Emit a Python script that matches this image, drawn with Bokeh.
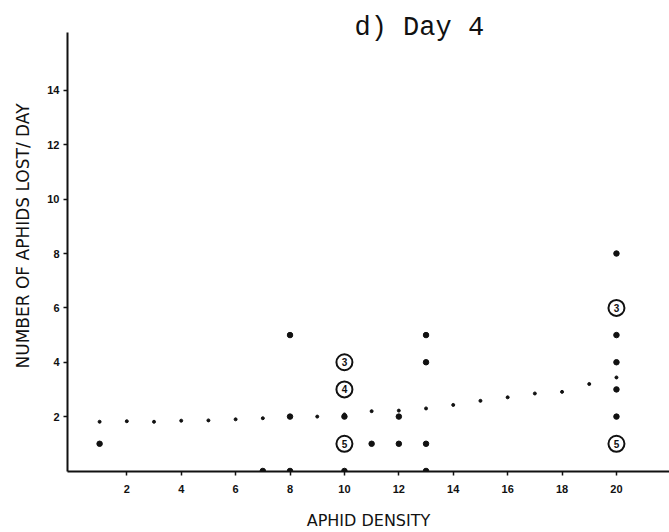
from bokeh.plotting import figure
from bokeh.models import Range1d, FixedTicker, Label, ColumnDataSource
from bokeh.embed import file_html
from bokeh.resources import INLINE
from bokeh.core.properties import value

# single observations (aphid density, aphids lost per day)
dot_x = [1, 7, 8, 8, 8, 10, 10, 11, 12, 12, 13, 13, 13, 13, 20, 20, 20, 20, 20]
dot_y = [1, 0, 0, 2, 5, 0, 2, 1, 1, 2, 0, 1, 4, 5, 2, 3, 4, 5, 8]

# circled points: number of coinciding observations
multi_x = [10, 10, 10, 20, 20]
multi_y = [4, 3, 1, 6, 1]
multi_n = ["3", "4", "5", "3", "5"]

# fitted curve (dotted)
fit_x = [1, 2, 3, 4, 5, 6, 7, 8, 9, 10, 11, 12, 13, 14, 15, 16, 17, 18, 19, 20]
fit_y = [1.81, 1.83, 1.81, 1.85, 1.86, 1.90, 1.94, 1.98, 2.00, 2.08,
         2.20, 2.22, 2.30, 2.43, 2.58, 2.71, 2.85, 2.91, 3.20, 3.44]

x_ticks = [2, 4, 6, 8, 10, 12, 14, 16, 18, 20]
y_ticks = [2, 4, 6, 8, 10, 12, 14]

title_text = "d) Day 4"
x_label = "APHID DENSITY"
y_label = "NUMBER OF APHIDS LOST/ DAY"

p = figure(width=669, height=532, output_backend="svg", toolbar_location=None,
           x_range=Range1d(-0.18, 21.95), y_range=Range1d(-0.02, 17.31),
           min_border_left=67, min_border_right=0, min_border_top=0, min_border_bottom=59)
p.outline_line_color = None
p.grid.visible = False
p.background_fill_color = "white"
p.border_fill_color = "white"

for ax in (p.xaxis[0], p.yaxis[0]):
    ax.axis_line_width = 2
    ax.axis_line_color = "#111111"
    ax.major_tick_line_width = 1.5
    ax.major_tick_line_color = "#111111"
    ax.major_tick_out = 4
    ax.major_tick_in = 0
    ax.minor_tick_line_color = None
    ax.major_label_text_font = "Liberation Sans"
    ax.major_label_text_font_style = "bold"
    ax.major_label_text_font_size = "11px"
    ax.major_label_text_color = "#111111"
    ax.axis_label_text_font = "DejaVu Sans"
    ax.axis_label_text_font_style = "normal"
    ax.axis_label_text_color = "#111111"

p.yaxis[0].bounds = (-0.02, 16.13)
p.xaxis[0].ticker = FixedTicker(ticks=x_ticks)
p.yaxis[0].ticker = FixedTicker(ticks=y_ticks)
p.xaxis[0].axis_label = x_label
p.yaxis[0].axis_label = y_label
p.xaxis[0].axis_label_text_font_size = "16px"
p.yaxis[0].axis_label_text_font_size = "17px"
p.xaxis[0].major_label_standoff = 9
p.yaxis[0].major_label_standoff = 4
p.xaxis[0].axis_label_standoff = 15
p.yaxis[0].axis_label_standoff = 11

fit_src = ColumnDataSource(dict(x=fit_x, y=fit_y))
p.scatter("x", "y", source=fit_src, size=3, color="#111111")

dot_src = ColumnDataSource(dict(x=dot_x, y=dot_y))
p.scatter("x", "y", source=dot_src, size=5.5, color="#111111")

multi_src = ColumnDataSource(dict(x=multi_x, y=multi_y, n=multi_n))
p.scatter("x", "y", source=multi_src, size=16, fill_color="white",
          line_color="#111111", line_width=2)
p.text("x", "y", text="n", source=multi_src, text_align="center", text_baseline="middle",
       text_font=value("Liberation Sans"), text_font_style="bold", text_font_size="10px",
       text_color="#111111")

p.add_layout(Label(x=287, y=444, x_units="screen", y_units="screen", text=title_text,
                   text_font="Liberation Mono", text_font_size="27px",
                   text_baseline="alphabetic", text_color="#111111"))

open("out.html", "w").write(file_html(p, INLINE))
